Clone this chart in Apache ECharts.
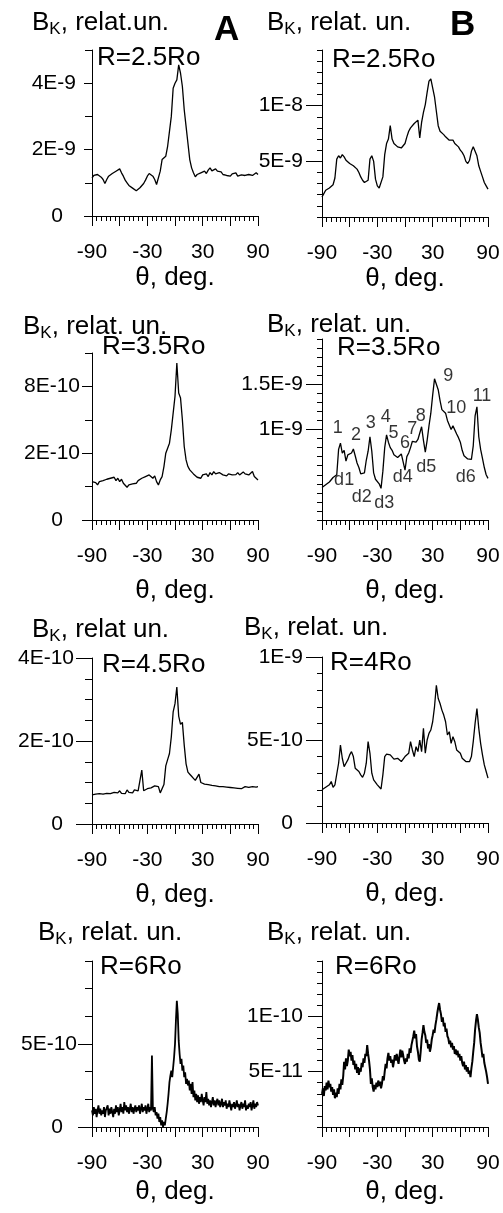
<!DOCTYPE html>
<html>
<head>
<meta charset="utf-8">
<script src="https://cdn.jsdelivr.net/npm/echarts@6/dist/echarts.min.js"></script>
<style>
html, body { margin: 0; padding: 0; background: #fff; }
#chart { width: 503px; height: 1213px; }
</style>
</head>
<body>
<div id="chart"></div>
<script>
// angle grids (deg)
const theta2 = [];
for (let t = -90; t <= 90; t += 2) theta2.push(t);
const theta1 = [];
for (let t = -90; t <= 90; t += 1) theta1.push(t);

// column A, values in the unit of each panel's axis
const a1 = [1.15,1.22,1.18,1.25,1.2,1.17,1.1,0.98,1.1,1.2,
  1.15,1.28,1.22,1.35,1.3,1.42,1.3,1.2,1.08,1.0,
  0.92,0.88,0.84,0.8,0.76,0.82,0.85,0.9,0.98,1.08,
  1.2,1.28,1.22,1.2,1.1,0.95,1.0,1.35,1.7,1.65,
  1.8,2.1,2.55,3.0,3.85,4.0,4.1,4.55,4.3,3.9,
  3.2,2.7,2.2,1.7,1.45,1.3,1.18,1.25,1.2,1.3,
  1.25,1.35,1.28,1.38,1.45,1.36,1.3,1.42,1.35,1.3,
  1.33,1.25,1.3,1.22,1.28,1.2,1.27,1.22,1.3,1.2,
  1.26,1.24,1.3,1.22,1.28,1.25,1.3,1.22,1.28,1.3,
  1.25];
const a2 = [1.15,1.1,1.12,1.05,1.15,1.12,1.18,1.15,1.22,1.18,
  1.25,1.2,1.28,1.18,1.25,1.15,1.22,1.1,1.05,0.98,
  1.05,1.0,1.08,1.12,1.1,1.18,1.2,1.25,1.22,1.3,
  1.28,1.35,1.3,1.25,1.32,1.15,1.05,1.2,1.3,1.6,
  2.0,2.15,2.3,2.7,3.2,3.7,4.7,3.8,3.65,3.0,
  2.2,1.8,1.6,1.5,1.45,1.38,1.35,1.28,1.32,1.25,
  1.35,1.3,1.38,1.3,1.42,1.35,1.45,1.38,1.35,1.42,
  1.38,1.35,1.4,1.32,1.38,1.42,1.35,1.4,1.36,1.42,
  1.35,1.4,1.44,1.38,1.42,1.35,1.4,1.45,1.3,1.28,
  1.2];
const a3 = [0.7,0.68,0.72,0.7,0.73,0.69,0.72,0.7,0.74,0.71,
  0.73,0.72,0.76,0.72,0.75,0.8,0.74,0.78,0.73,0.82,
  0.76,0.78,0.75,0.82,0.78,0.8,0.77,1.3,0.8,0.82,
  0.85,0.83,0.87,0.85,0.92,0.88,0.9,0.75,0.72,0.95,
  1.4,1.55,1.7,2.1,2.7,2.9,3.3,2.6,2.4,2.45,
  1.9,1.45,1.25,1.2,1.15,1.1,1.05,1.08,1.2,1.0,
  1.0,0.96,0.98,0.95,0.97,0.93,0.95,0.92,0.94,0.9,
  0.93,0.9,0.92,0.89,0.91,0.88,0.9,0.87,0.89,0.86,
  0.88,0.85,0.87,0.9,0.86,0.88,0.85,0.9,0.87,0.89,
  0.9];
const a4 = [1.0,0.7,1.2,0.8,1.1,0.6,1.0,1.3,0.8,1.1,
  0.7,1.0,0.8,1.2,0.6,1.0,0.9,1.3,0.7,1.1,
  0.8,1.2,0.9,0.6,1.1,0.8,1.3,0.9,1.2,0.7,
  1.0,1.4,0.9,1.2,0.8,1.5,1.0,1.3,0.9,1.2,
  0.8,1.1,1.4,0.9,1.2,0.8,1.1,1.3,0.9,1.2,
  1.0,1.3,0.8,1.1,1.4,0.9,1.2,1.0,1.3,0.8,
  1.1,1.4,0.9,1.2,1.0,4.3,1.1,0.9,1.2,0.7,
  0.9,0.5,0.8,0.3,0.6,0.1,0.4,0.0,0.3,0.1,
  0.5,0.9,1.4,2.0,2.7,3.1,3.4,3.0,3.6,4.2,
  5.0,6.4,7.6,6.8,5.2,4.4,3.8,4.1,3.4,3.7,
  3.0,3.3,2.6,2.9,2.5,2.8,2.2,2.6,2.0,2.7,
  1.8,2.2,1.6,2.0,1.5,1.9,1.4,1.8,1.5,2.0,
  1.6,1.3,1.8,1.5,2.1,1.4,1.7,1.3,1.6,1.2,
  1.5,1.8,1.3,1.6,1.2,1.5,1.7,1.3,1.6,1.2,
  1.4,1.7,1.2,1.5,1.3,1.6,1.1,1.4,1.2,1.6,
  1.3,1.0,1.4,1.2,1.5,1.1,1.3,1.6,1.2,1.4,
  1.0,1.3,1.5,1.1,1.4,1.2,1.6,1.0,1.3,1.1,
  1.4,1.2,1.5,1.0,1.3,1.6,1.1,1.4,1.2,1.5,
  1.3];

// column B
const b1 = [1.8,2.1,2.4,2.5,2.6,2.7,2.9,3.5,5.2,5.5,
  5.3,5.6,5.4,5.1,5.0,4.8,4.85,4.6,4.5,4.3,
  4.0,3.6,3.3,3.1,3.15,3.3,5.2,5.5,5.0,3.4,
  2.8,2.6,2.7,3.6,5.6,6.6,7.0,8.2,7.0,6.6,
  6.5,6.3,6.4,6.2,6.3,6.6,7.2,7.7,8.0,7.9,
  8.4,8.3,8.7,7.1,8.5,9.4,10.1,11.2,12.2,12.4,
  11.6,10.8,9.5,8.2,7.7,7.6,7.4,7.2,7.3,6.9,
  6.8,6.9,6.6,6.5,6.3,6.0,5.8,5.5,5.0,4.8,
  5.1,5.9,6.3,6.2,5.5,4.6,4.1,3.6,3.1,2.8,
  2.5];
const b2 = [3.6,3.8,3.9,4.0,4.2,4.4,4.7,4.5,5.0,7.8,
  8.5,7.4,7.7,6.5,7.2,7.0,7.4,7.85,7.1,6.3,
  5.8,5.1,4.9,5.2,6.6,7.6,9.2,7.6,5.2,4.5,
  4.3,4.0,3.5,5.4,8.0,9.4,8.6,8.0,7.7,7.2,
  7.0,6.9,7.1,7.3,7.2,5.5,7.0,7.4,8.0,8.7,
  8.9,8.6,8.9,9.1,10.3,8.8,7.5,8.8,10.4,11.8,
  13.8,15.6,15.8,14.4,13.2,12.2,12.0,11.8,11.0,11.2,
  10.0,10.4,10.2,9.5,9.1,8.6,7.7,7.1,6.9,6.75,
  6.9,6.7,8.2,11.5,12.5,9.2,7.8,6.8,5.8,5.0,
  4.6];
const b3 = [2.0,2.1,2.15,2.2,2.3,2.5,2.15,2.3,2.4,3.6,
  4.7,3.9,3.4,3.6,3.8,4.1,4.3,4.0,3.3,3.2,
  3.1,2.9,2.75,3.0,3.6,4.9,4.2,3.0,2.6,2.5,
  2.3,2.2,2.05,2.9,4.0,4.15,4.2,4.1,4.0,3.85,
  3.8,3.9,4.0,3.7,3.8,4.0,4.1,4.2,4.9,4.4,
  4.0,4.6,4.3,5.0,4.3,5.7,4.2,5.0,5.4,5.6,
  6.1,7.0,8.3,7.5,7.2,6.8,6.5,6.1,5.3,5.5,
  4.8,5.2,4.9,4.4,4.3,4.2,3.9,3.8,3.7,3.8,
  3.7,4.0,4.9,6.0,6.9,5.7,4.8,4.1,3.5,3.1,
  2.7];
const b4 = [3.0,3.5,2.8,3.7,3.3,4.0,3.4,4.2,3.6,3.9,
  3.2,3.6,2.9,3.4,2.6,3.1,2.7,3.5,3.0,3.9,
  3.4,4.3,3.8,4.6,5.9,5.2,6.2,5.5,6.0,7.0,
  6.4,6.8,6.0,6.5,5.6,6.0,5.2,5.7,4.9,5.4,
  4.7,5.3,5.0,5.8,5.4,6.2,5.8,6.6,6.4,7.4,
  6.6,6.0,5.2,3.9,4.4,3.6,3.2,3.8,3.4,4.0,
  3.6,4.2,3.7,4.1,3.5,3.9,4.6,4.2,5.0,5.7,
  5.3,6.2,6.7,6.0,6.4,5.8,6.1,5.4,5.9,6.5,
  6.0,6.6,6.1,5.7,6.4,7.0,6.3,6.9,6.5,6.0,
  5.7,6.2,5.9,6.6,6.2,7.1,6.7,7.4,7.8,8.2,
  8.7,8.0,8.4,7.3,6.8,6.1,5.9,6.8,7.9,8.5,
  9.2,8.6,8.3,7.6,7.9,7.1,7.5,6.8,7.2,7.9,
  8.3,8.8,8.5,9.2,9.7,10.3,10.8,11.2,10.6,10.2,
  9.5,9.9,9.1,9.4,8.6,8.9,8.2,8.0,7.5,7.8,
  7.2,7.6,7.0,7.3,6.6,7.0,6.5,6.9,6.3,6.6,
  6.0,6.4,5.8,5.5,5.9,5.2,5.6,5.0,5.4,4.8,
  5.1,4.5,5.3,5.9,6.8,7.6,8.8,9.6,10.2,9.7,
  9.0,8.5,7.6,7.0,6.3,6.6,5.8,5.4,5.0,4.5,
  3.9];

// tick labels [axis value, text]
const yLabelsA1 = [[0, '0'], [2, '2E-9'], [4, '4E-9']];
const yLabelsA2 = [[0, '0'], [2, '2E-10'], [4, '8E-10']];
const yLabelsA3 = [[0, '0'], [2, '2E-10'], [4, '4E-10']];
const yLabelsA4 = [[0, '0'], [5, '5E-10']];
const yLabelsB1 = [[5, '5E-9'], [10, '1E-8']];
const yLabelsB2 = [[10, '1E-9'], [15, '1.5E-9']];
const yLabelsB3 = [[0, '0'], [5, '5E-10'], [10, '1E-9']];
const yLabelsB4 = [[5, '5E-11'], [10, '1E-10']];
const xLabels = [-90, -30, 30, 90];

// peak / dip marks in panel B, R=3.5Ro
const marksB2 = [
  ['1', -73, 10.2], ['2', -53, 9.4], ['3', -37, 10.7], ['4', -21, 11.4],
  ['5', -12.5, 9.6], ['6', 0, 8.5], ['7', 8, 10.1], ['8', 17, 11.5],
  ['9', 47, 15.9], ['10', 55.5, 12.4], ['11', 83.5, 13.7],
  ['d1', -66, 4.4], ['d2', -47, 2.5], ['d3', -22.5, 1.85], ['d4', -2.5, 4.7],
  ['d5', 23, 5.9], ['d6', 66, 4.7]
];

const FONT = '"Liberation Sans", Arial, Helvetica, sans-serif';

const panels = [
  { vals: a1, theta: theta2, left: 92, top: 50, height: 166, max: 5, step: 1, labels: yLabelsA1, major: 8, minor: 7, gap: 16, nameGap: 49, title: ', relat.un.', tx: 32, ty: 23, r: 'R=2.5Ro', rx: 97, ry: 58, lw: 1.3 },
  { vals: b1, theta: theta2, left: 322, top: 50, height: 167, max: 15, step: 1, labels: yLabelsB1, major: 16, minor: 5, gap: 19, nameGap: 49, title: ', relat. un.', tx: 267, ty: 23, r: 'R=2.5Ro', rx: 332, ry: 60, lw: 1.3 },
  { vals: a2, theta: theta2, left: 92, top: 353, height: 167, max: 5, step: 1, labels: yLabelsA2, major: 10, minor: 7, gap: 12, nameGap: 58, title: ', relat. un.', tx: 23, ty: 327, r: 'R=3.5Ro', rx: 102, ry: 347, lw: 1.3 },
  { vals: b2, theta: theta2, left: 322, top: 339, height: 181, max: 20, step: 1, labels: yLabelsB2, major: 16, minor: 5, gap: 19, nameGap: 58, title: ', relat. un.', tx: 267, ty: 325, r: 'R=3.5Ro', rx: 337, ry: 348, marks: marksB2, lw: 1.3 },
  { vals: a3, theta: theta2, left: 92, top: 658, height: 166, max: 4, step: 0.5, labels: yLabelsA3, major: 16, minor: 7, gap: 18, nameGap: 58, title: ', relat un.', tx: 32, ty: 630, r: 'R=4.5Ro', rx: 102, ry: 665, lw: 1.3 },
  { vals: b3, theta: theta2, left: 322, top: 657, height: 166, max: 10, step: 1, labels: yLabelsB3, major: 16, minor: 5, gap: 19, nameGap: 58, title: ', relat. un.', tx: 244, ty: 628, r: 'R=4Ro', rx: 330, ry: 663, lw: 1.3 },
  { vals: a4, theta: theta1, left: 92, top: 961, height: 166, max: 10, step: 10 / 6, labels: yLabelsA4, major: 14, minor: 7, gap: 15, nameGap: 52, title: ', relat. un.', tx: 38, ty: 933, r: 'R=6Ro', rx: 100, ry: 967, lw: 1.8 },
  { vals: b4, theta: theta1, left: 322, top: 961, height: 166, max: 15, step: 1, labels: yLabelsB4, major: 14, minor: 5, gap: 19, nameGap: 52, title: ', relat. un.', tx: 267, ty: 933, r: 'R=6Ro', rx: 335, ry: 967, lw: 2 }
];

const black = { color: '#000', width: 1 };
const grids = [], xAxes = [], yAxes = [], series = [], graphics = [];

panels.forEach((p, i) => {
  grids.push({ left: p.left, top: p.top, width: 166, height: p.height, containLabel: false });

  xAxes.push({
    type: 'value', gridIndex: i, min: -90, max: 90, interval: 30,
    axisLine: { onZero: false, lineStyle: black },
    axisTick: { length: 10, lineStyle: black },
    minorTick: { show: true, splitNumber: 6, length: 5, lineStyle: black },
    splitLine: { show: false }, minorSplitLine: { show: false },
    axisLabel: { customValues: xLabels, formatter: v => String(v), color: '#000', fontSize: 21, fontFamily: FONT, margin: 26 },
    name: 'θ, deg.', nameLocation: 'middle', nameGap: p.nameGap,
    nameTextStyle: { color: '#000', fontSize: 26, fontFamily: FONT }
  });

  const minorVals = [];
  for (let k = 0; k * p.step <= p.max + 1e-9; k++) minorVals.push(+(k * p.step).toFixed(6));
  const labVals = p.labels.map(l => l[0]);

  yAxes.push({
    type: 'value', gridIndex: i, position: 'left', min: 0, max: p.max,
    axisLine: { show: true, onZero: false, lineStyle: black },
    axisTick: { show: true, customValues: minorVals, length: p.minor, lineStyle: black },
    axisLabel: { show: false }, splitLine: { show: false }
  });
  yAxes.push({
    type: 'value', gridIndex: i, position: 'left', min: 0, max: p.max,
    axisLine: { show: false, onZero: false },
    axisTick: { show: true, customValues: labVals, length: p.major, lineStyle: black },
    axisLabel: {
      customValues: labVals, margin: p.gap, color: '#000', fontSize: 21, fontFamily: FONT,
      formatter: v => {
        const e = p.labels.find(l => Math.abs(l[0] - v) < 1e-6);
        if (!e) return '';
        return v === 0 ? '{z|0}' : e[1];
      },
      rich: { z: { fontSize: 21, fontFamily: FONT, color: '#000', padding: [0, 29 - p.gap, 0, 0] } }
    },
    splitLine: { show: false }
  });

  series.push({
    type: 'line', xAxisIndex: i, yAxisIndex: 2 * i,
    data: p.theta.map((t, j) => [t, p.vals[j]]),
    showSymbol: false, symbol: 'none',
    lineStyle: { color: '#000', width: p.lw }, silent: true
  });

  if (p.marks) {
    series.push({
      type: 'scatter', xAxisIndex: i, yAxisIndex: 2 * i,
      symbolSize: 0, itemStyle: { color: '#000' }, silent: true,
      data: p.marks.map(m => ({ name: m[0], value: [m[1], m[2]] })),
      label: {
        show: true, position: 'inside', formatter: '{b}', color: '#000',
        textBorderWidth: 0, fontSize: 18, fontFamily: FONT
      }
    });
  }

  // panel titles
  graphics.push({
    type: 'text', x: p.tx, y: p.ty - 13,
    style: {
      text: '{b|B}{k|K}{t|' + p.title + '}',
      rich: {
        b: { fontSize: 26, lineHeight: 26, fontFamily: FONT, fill: '#000', verticalAlign: 'top' },
        k: { fontSize: 17, lineHeight: 17, fontFamily: FONT, fill: '#000', verticalAlign: 'top', padding: [11, 0, 0, 0] },
        t: { fontSize: 26, lineHeight: 26, fontFamily: FONT, fill: '#000', verticalAlign: 'top' }
      }
    }
  });
  graphics.push({
    type: 'text', x: p.rx, y: p.ry,
    style: { text: p.r, fontSize: 26, fontFamily: FONT, fill: '#000', textVerticalAlign: 'middle' }
  });
});

graphics.push({ type: 'text', x: 214, y: 30, style: { text: 'A', fontSize: 35, fontWeight: 'bold', fontFamily: FONT, fill: '#000', textVerticalAlign: 'middle' } });
graphics.push({ type: 'text', x: 450, y: 25, style: { text: 'B', fontSize: 35, fontWeight: 'bold', fontFamily: FONT, fill: '#000', textVerticalAlign: 'middle' } });

const chart = echarts.init(document.getElementById('chart'), null, { renderer: 'canvas' });
chart.setOption({
  animation: false,
  backgroundColor: '#fff',
  grid: grids,
  xAxis: xAxes,
  yAxis: yAxes,
  series: series,
  graphic: graphics
});
</script>
</body>
</html>
